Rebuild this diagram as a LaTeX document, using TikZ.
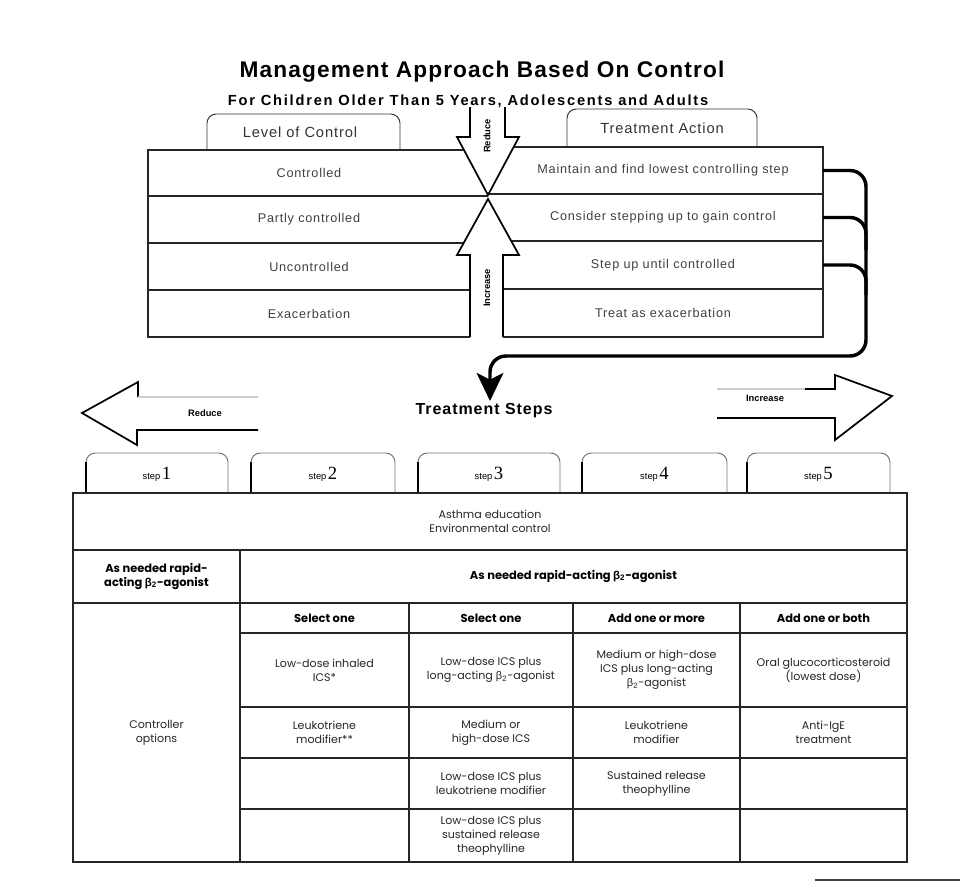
\documentclass[tikz,border=0pt]{standalone}
\usepackage{fontspec}
\setmainfont{Liberation Sans}
\newfontfamily\titlefont[LetterSpace=5]{Liberation Sans}
\newfontfamily\subfont[LetterSpace=12]{Liberation Sans}
\newfontfamily\rowfont[LetterSpace=6]{Liberation Sans}
\newfontfamily\cellfont{Poppins}
\newfontfamily\greekfont{Liberation Sans}
\newfontfamily\numfont{Liberation Serif}
\newcommand\btwo{{\greekfont β\textsubscript{2}}}
\usetikzlibrary{arrows.meta}

% one framed table cell with centred text: name, x1, y1, x2, y2, style, text
\newcommand\tcell[7]{%
  \draw[tline] (#2,#3) rectangle (#4,#5);
  \node[#6] (#1) at ({(#2+#4)/2},{(#3+#5)/2}) {#7};}

\begin{document}
\begin{tikzpicture}[x=0.75pt,y=-0.75pt,
  tline/.style={line width=0.9pt, draw=black!85},
  xline/.style={line width=1.3pt},
  ttext/.style={font=\cellfont\fontsize{8.3}{10.5}\selectfont, align=center, text=black!85, inner sep=1pt},
  btext/.style={font=\cellfont\bfseries\fontsize{8.6}{10.5}\selectfont, align=center, inner sep=1pt},
  rowtext/.style={font=\rowfont\fontsize{9.5}{11}\selectfont, text=black!75, inner sep=0pt, outer sep=0pt},
  tabtext/.style={font=\rowfont\fontsize{11}{13}\selectfont, text=black!80},
  tabline/.style={line width=0.7pt, draw=black!55, rounded corners=7pt},
  flow/.style={line width=2.6pt, rounded corners=12pt},
  faint/.style={line width=0.8pt, draw=black!20},
  arrowlbl/.style={font=\bfseries\fontsize{7}{8}\selectfont},
]
\useasboundingbox (0,0) rectangle (960,886);

% ---------- headings ----------
\node[font=\titlefont\bfseries\fontsize{17}{20}\selectfont] (title) at (482,72) {Management Approach Based On Control};
\node[font=\subfont\bfseries\fontsize{11}{13}\selectfont] (subtitle) at (468,101) {For Children Older Than 5 Years, Adolescents and Adults};

% ---------- level of control (left table) ----------
\draw[tabline, draw=black!80] (207,150) -- (207,114) -- (400,114) -- (400,150);
\node[tabtext] (loc) at (300,132) {Level of Control};
\draw[tline] (464,150) -- (148,150) -- (148,337) -- (470,337);
\draw[tline] (148,196) -- (488,196);
\draw[tline] (148,243) -- (463,243);
\draw[tline] (148,290) -- (470,290);
\node[rowtext, minimum width=240pt, minimum height=34pt] (lc1) at (309,173) {Controlled};
\node[rowtext, minimum width=240pt, minimum height=34pt] (lc2) at (309,219.5) {Partly controlled};
\node[rowtext, minimum width=240pt, minimum height=34pt] (lc3) at (309,266.5) {Uncontrolled};
\node[rowtext, minimum width=240pt, minimum height=34pt] (lc4) at (309,313.5) {Exacerbation};

% ---------- treatment action (right table) ----------
\draw[tabline, draw=black!80] (567,147) -- (567,109) -- (757,109) -- (757,147);
\node[tabtext] (tact) at (662,128) {Treatment Action};
\draw[tline] (514,147) -- (823,147) -- (823,337) -- (503,337);
\draw[tline] (488,194) -- (823,194);
\draw[tline] (511,241) -- (823,241);
\draw[tline] (503,289) -- (823,289);
\node[rowtext, minimum width=240pt, minimum height=34pt] (ta1) at (663,170.5) {Maintain and find lowest controlling step};
\node[rowtext, minimum width=240pt, minimum height=34pt] (ta2) at (663,217.5) {Consider stepping up to gain control};
\node[rowtext, minimum width=240pt, minimum height=34pt] (ta3) at (663,265) {Step up until controlled};
\node[rowtext, minimum width=240pt, minimum height=34pt] (ta4) at (663,313) {Treat as exacerbation};

% ---------- reduce / increase arrows between the tables ----------
\draw[xline, line join=miter] (470,107) -- (470,137) -- (457,137) -- (488,195) -- (519,137) -- (505,137) -- (505,107);
\draw[xline, line join=miter] (470,337) -- (470,255) -- (457,255) -- (488,199) -- (519,255) -- (503,255) -- (503,337);
\node[arrowlbl, rotate=90] (redv) at (487,136) {Reduce};
\node[arrowlbl, rotate=90] (incv) at (487,288) {Increase};

% ---------- feedback connector to the treatment steps ----------
\coordinate (trunk) at (866,356);
\coordinate (j2) at (866,250);
\coordinate (j3) at (866,295);
\coordinate (stepsin) at (490,401);
\draw[flow] (ta2.east) -| (j2);
\draw[flow] (ta3.east) -| (j3);
\draw[flow, -{Stealth[length=21pt, width=20pt, inset=5pt]}] (ta1.east) -| (trunk) -| (stepsin);

% ---------- treatment steps heading and arrows ----------
\node[font=\rowfont\bfseries\fontsize{12}{14}\selectfont] (steps) at (484,411) {Treatment Steps};
\draw[xline, line join=miter] (258,430) -- (137,430) -- (137,445) -- (82,413) -- (138,382) -- (138,397);
\draw[faint] (138,397) -- (258,397);
\node[arrowlbl] (redh) at (205,413) {Reduce};
\draw[xline, line join=miter] (717,418) -- (835,418) -- (835,440) -- (892,396) -- (835,375) -- (835,389) -- (805,389);
\draw[faint] (805,389) -- (717,389);
\node[arrowlbl] (inch) at (765,398) {Increase};

% ---------- step tabs ----------
\foreach \n/\a/\b in {1/86/228, 2/251/395, 3/418/560, 4/582/727, 5/747/890} {
  \draw[tabline] (\a,493) -- (\a,453) -- (\b,453) -- (\b,493);
  \draw[line width=0.9pt] (\a,493) -- (\a,462);
  \node[inner sep=0pt] (step\n) at ({(\a+\b)/2},474)
    {{\fontsize{7}{8}\selectfont step\,}{\numfont\fontsize{14}{15}\selectfont\n}};
}

% ---------- treatment table ----------
\tcell{edu}{73}{493}{907}{550}{ttext}{Asthma education\\Environmental control}
\tcell{rel1}{73}{550}{240}{603}{btext}{As needed rapid-\\acting \btwo-agonist}
\tcell{rel2}{240}{550}{907}{603}{btext}{As needed rapid-acting \btwo-agonist}
\tcell{ctrl}{73}{603}{240}{862}{ttext}{Controller\\options}

\tcell{h2}{240}{603}{409}{633}{btext}{Select one}
\tcell{h3}{409}{603}{573}{633}{btext}{Select one}
\tcell{h4}{573}{603}{740}{633}{btext}{Add one or more}
\tcell{h5}{740}{603}{907}{633}{btext}{Add one or both}

\tcell{a2}{240}{633}{409}{707}{ttext}{Low-dose inhaled\\ICS*}
\tcell{a3}{409}{633}{573}{707}{ttext}{Low-dose ICS plus\\long-acting \btwo-agonist}
\tcell{a4}{573}{633}{740}{707}{ttext}{Medium or high-dose\\ICS plus long-acting\\\btwo-agonist}
\tcell{a5}{740}{633}{907}{707}{ttext}{Oral glucocorticosteroid\\(lowest dose)}

\tcell{b2}{240}{707}{409}{758}{ttext}{Leukotriene\\modifier**}
\tcell{b3}{409}{707}{573}{758}{ttext}{Medium or\\high-dose ICS}
\tcell{b4}{573}{707}{740}{758}{ttext}{Leukotriene\\modifier}
\tcell{b5}{740}{707}{907}{758}{ttext}{Anti-IgE\\treatment}

\tcell{c2}{240}{758}{409}{809}{ttext}{}
\tcell{c3}{409}{758}{573}{809}{ttext}{Low-dose ICS plus\\leukotriene modifier}
\tcell{c4}{573}{758}{740}{809}{ttext}{Sustained release\\theophylline}
\tcell{c5}{740}{758}{907}{809}{ttext}{}

\tcell{d2}{240}{809}{409}{862}{ttext}{}
\tcell{d3}{409}{809}{573}{862}{ttext}{Low-dose ICS plus\\sustained release\\theophylline}
\tcell{d4}{573}{809}{740}{862}{ttext}{}
\tcell{d5}{740}{809}{907}{862}{ttext}{}

% rule at the foot of the page
\draw[line width=2.2pt, black!75] (815,880) -- (960,880);
\end{tikzpicture}
\end{document}
